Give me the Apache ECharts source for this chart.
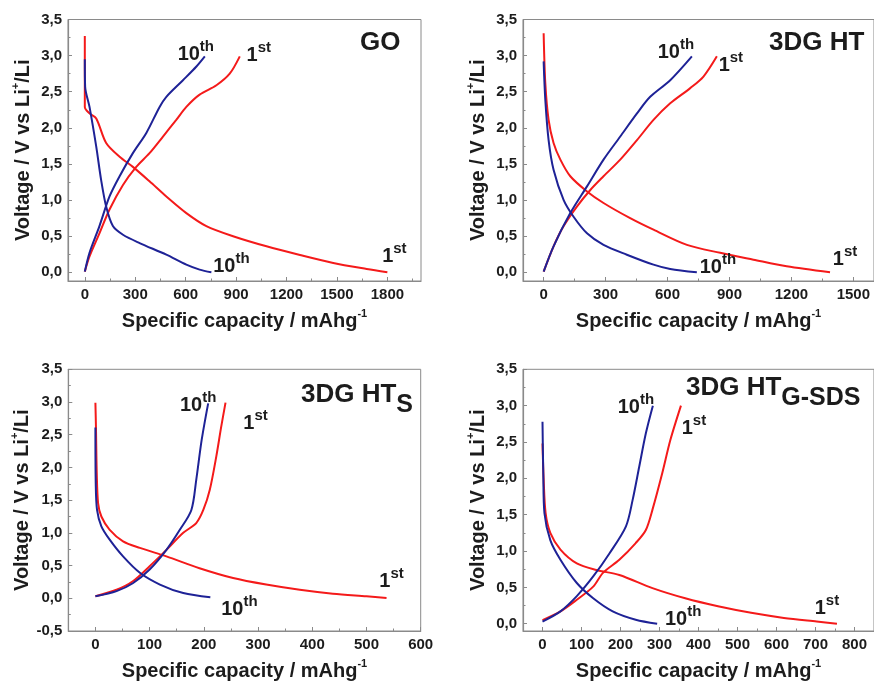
<!DOCTYPE html>
<html>
<head>
<meta charset="utf-8">
<script src="https://cdn.jsdelivr.net/npm/echarts@6/dist/echarts.min.js"></script>
<style>
  html, body { margin: 0; padding: 0; background: #fff; }
  #chart { width: 874px; height: 682px; }
</style>
</head>
<body>
<div id="chart"></div>
<script>
// Galvanostatic charge/discharge profiles, 1st and 10th cycle, four electrodes.
// Each curve: [specific capacity (mAh/g), voltage (V)]

// GO
const goDis1 = [[0,3.27],[0,2.29],[28,2.2],[68,2.13],[127,1.79],[207,1.6],[286,1.46],[385,1.26],[485,1.05],[604,0.82],[723,0.64],[882,0.5],[1081,0.36],[1280,0.24],[1478,0.13],[1677,0.046],[1800,0]];
const goChg1 = [[0,0.01],[28,0.22],[87,0.54],[147,0.87],[227,1.21],[306,1.46],[385,1.65],[465,1.88],[544,2.11],[604,2.29],[683,2.46],[783,2.59],[862,2.75],[922,2.99]];
const goDis10 = [[0,2.95],[2,2.57],[28,2.29],[68,1.74],[97,1.28],[127,0.91],[167,0.64],[227,0.52],[326,0.405],[485,0.244],[604,0.106],[683,0.037],[753,0]];
const goChg10 = [[0,0.01],[28,0.27],[87,0.64],[147,1.05],[207,1.33],[286,1.65],[366,1.93],[445,2.29],[485,2.43],[584,2.66],[664,2.85],[714,2.99]];

// 3DG HT
const htDis1 = [[0,3.31],[8,2.62],[24,2.11],[48,1.79],[81,1.56],[129,1.33],[210,1.12],[290,0.96],[419,0.75],[532,0.59],[694,0.38],[855,0.27],[1016,0.175],[1177,0.083],[1387,0]];
const htChg1 = [[0,0.01],[48,0.36],[97,0.64],[161,0.91],[226,1.14],[290,1.33],[371,1.56],[452,1.83],[532,2.11],[613,2.34],[710,2.55],[774,2.71],[839,2.99]];
const htDis10 = [[0,2.92],[8,2.39],[24,1.83],[48,1.42],[97,1.0],[145,0.77],[210,0.54],[290,0.38],[403,0.244],[532,0.106],[613,0.046],[742,0]];
const htChg10 = [[0,0.01],[48,0.36],[129,0.82],[210,1.19],[290,1.56],[371,1.88],[452,2.2],[516,2.43],[613,2.66],[718,2.99]];

// 3DG HT_S
const htsDis1 = [[0,2.99],[1,2.62],[2.5,1.91],[5,1.45],[11,1.25],[26,1.05],[51,0.87],[82,0.77],[131,0.64],[192,0.46],[254,0.31],[315,0.21],[377,0.13],[438,0.07],[500,0.03],[537,0.005]];
const htsChg1 = [[0,0.03],[39,0.13],[69,0.26],[100,0.49],[131,0.74],[162,1.0],[186,1.15],[199,1.35],[211,1.66],[223,2.17],[232,2.62],[240,2.99]];
const htsDis10 = [[0,2.61],[0.6,1.76],[3,1.35],[11,1.1],[26,0.9],[51,0.64],[82,0.39],[119,0.21],[162,0.08],[212,0.015]];
const htsChg10 = [[0,0.03],[39,0.11],[69,0.23],[100,0.44],[131,0.74],[156,1.05],[177,1.35],[186,1.81],[196,2.42],[208,2.98]];

// 3DG HT_G-SDS
const sdsDis1 = [[0,2.48],[3,1.98],[8,1.52],[20,1.25],[46,1.02],[88,0.83],[138,0.74],[197,0.67],[282,0.49],[366,0.35],[450,0.24],[535,0.15],[619,0.08],[703,0.03],[755,0]];
const sdsChg1 = [[0,0.05],[46,0.17],[88,0.33],[130,0.51],[155,0.7],[197,0.88],[239,1.11],[265,1.29],[282,1.57],[307,2.07],[328,2.53],[355,3.0]];
const sdsDis10 = [[0,2.78],[2,2.07],[5,1.52],[20,1.15],[46,0.88],[88,0.56],[130,0.35],[180,0.17],[239,0.055],[294,0]];
const sdsChg10 = [[0,0.03],[46,0.17],[88,0.38],[130,0.65],[172,0.97],[214,1.34],[231,1.7],[248,2.16],[265,2.62],[283,3.0]];

// Tick labels
const voltTicks = [0, 0.5, 1.0, 1.5, 2.0, 2.5, 3.0, 3.5];
const voltTicksNeg = [-0.5, 0, 0.5, 1.0, 1.5, 2.0, 2.5, 3.0, 3.5];
const goCapTicks = [0, 300, 600, 900, 1200, 1500, 1800];
const htCapTicks = [0, 300, 600, 900, 1200, 1500];
const htsCapTicks = [0, 100, 200, 300, 400, 500, 600];
const sdsCapTicks = [0, 100, 200, 300, 400, 500, 600, 700, 800];

const panelTitles = ['{m|GO}', '{m|3DG HT}', '{m|3DG HT}{s|S}', '{m|3DG HT}{s|G-SDS}'];
const cycleFirst = '{n|1}{s|st}';
const cycleTenth = '{n|10}{s|th}';

const RED = '#f41a1a';
const BLUE = '#1e2296';
const FONT = '"Liberation Sans", Arial, sans-serif';
const INK = '#1c1c1c';
const AXIS = '#8a8a8a';

const panels = [
  { grid: { left: 68, top: 19.5, width: 353, height: 261.5 }, x: [-100, 2000], y: [-0.12, 3.5],
    xt: goCapTicks, xm: [150, 450, 750, 1050, 1350, 1650, 1950], yt: voltTicks, ym: [0.25, 0.75, 1.25, 1.75, 2.25, 2.75, 3.25],
    curves: [goDis1, goChg1, goDis10, goChg10],
    offs: [[7, -18], [19, -3], [20, -8], [-9, -4]],
    title: { left: 360, top: 30 } },
  { grid: { left: 523, top: 19.5, width: 351.4, height: 261.5 }, x: [-100, 1600], y: [-0.12, 3.5],
    xt: htCapTicks, xm: [150, 450, 750, 1050, 1350], yt: voltTicks, ym: [0.25, 0.75, 1.25, 1.75, 2.25, 2.75, 3.25],
    curves: [htDis1, htChg1, htDis10, htChg10],
    offs: [[15, -15], [14, 7], [21, -7], [-16, -6]],
    title: { left: 769, top: 30 } },
  { grid: { left: 68.3, top: 369.3, width: 352.4, height: 261.7 }, x: [-50, 600], y: [-0.5, 3.5],
    xt: htsCapTicks, xm: [50, 150, 250, 350, 450, 550], yt: voltTicksNeg, ym: [-0.25, 0.25, 0.75, 1.25, 1.75, 2.25, 2.75, 3.25],
    curves: [htsDis1, htsChg1, htsDis10, htsChg10],
    offs: [[5, -19], [30, 18], [29, 10], [-10, 0]],
    title: { left: 301, top: 382 } },
  { grid: { left: 523, top: 369.3, width: 356, height: 261.7 }, x: [-50, 850], y: [-0.1, 3.5],
    xt: sdsCapTicks, xm: [50, 150, 250, 350, 450, 550, 650, 750], yt: voltTicks, ym: [0.25, 0.75, 1.25, 1.75, 2.25, 2.75, 3.25],
    curves: [sdsDis1, sdsChg1, sdsDis10, sdsChg10],
    offs: [[-10, -18], [13, 20], [26, -7], [-17, -1]],
    title: { left: 686, top: 375 } }
];

const cycleRich = {
  n: { fontFamily: FONT, fontWeight: 'bold', fontSize: 20, color: INK, lineHeight: 25, verticalAlign: 'bottom' },
  s: { fontFamily: FONT, fontWeight: 'bold', fontSize: 15, color: INK, verticalAlign: 'top' }
};

const fmtVolt = v => v.toFixed(1).replace('.', ',');
const fmtCap = v => String(v);

const nameRich = {
  m: { fontFamily: FONT, fontWeight: 'bold', fontSize: 20, color: INK, lineHeight: 23, verticalAlign: 'bottom' },
  s: { fontFamily: FONT, fontWeight: 'bold', fontSize: 11, color: INK, verticalAlign: 'top' }
};

const option = { animation: false, grid: [], xAxis: [], yAxis: [], series: [], title: [] };

panels.forEach((p, i) => {
  option.grid.push(Object.assign({ show: true, borderColor: AXIS, borderWidth: 1, backgroundColor: 'transparent' }, p.grid));
  // labelled axes
  option.xAxis.push({
    type: 'value', gridIndex: i, min: p.x[0], max: p.x[1], position: 'bottom',
    axisLine: { onZero: false, lineStyle: { color: AXIS, width: 1.2 } },
    axisTick: { inside: true, length: 4, customValues: p.xt, lineStyle: { color: AXIS } },
    axisLabel: { customValues: p.xt, margin: 6, formatter: fmtCap, fontFamily: FONT, fontWeight: 'bold', fontSize: 15, color: INK },
    splitLine: { show: false },
    name: '{m|Specific capacity / mAhg}{s|-1}', nameLocation: 'middle', nameGap: 27,
    nameTextStyle: { rich: nameRich }
  });
  option.yAxis.push({
    type: 'value', gridIndex: i, min: p.y[0], max: p.y[1], position: 'left',
    axisLine: { onZero: false, lineStyle: { color: AXIS, width: 1.2 } },
    axisTick: { inside: true, length: 4, customValues: p.yt, lineStyle: { color: AXIS } },
    axisLabel: { customValues: p.yt, margin: 6, formatter: fmtVolt, fontFamily: FONT, fontWeight: 'bold', fontSize: 15, color: INK },
    splitLine: { show: false },
    name: '{m|Voltage / V vs Li}{s|+}{m|/Li}', nameLocation: 'middle', nameGap: 35, nameRotate: 90,
    nameTextStyle: { rich: nameRich }
  });
  // minor tick axes
  option.xAxis.push({
    type: 'value', gridIndex: i, min: p.x[0], max: p.x[1], position: 'bottom',
    axisLine: { show: false, onZero: false }, axisLabel: { show: false }, splitLine: { show: false },
    axisTick: { inside: true, length: 2.5, customValues: p.xm, lineStyle: { color: AXIS } }
  });
  option.yAxis.push({
    type: 'value', gridIndex: i, min: p.y[0], max: p.y[1], position: 'left',
    axisLine: { show: false, onZero: false }, axisLabel: { show: false }, splitLine: { show: false },
    axisTick: { inside: true, length: 2.5, customValues: p.ym, lineStyle: { color: AXIS } }
  });

  const xi = i * 2, yi = i * 2;
  const colors = [RED, RED, BLUE, BLUE];
  const tags = [cycleFirst, cycleFirst, cycleTenth, cycleTenth];
  p.curves.forEach((data, k) => {
    const last = data[data.length - 1];
    option.series.push({
      type: 'line', xAxisIndex: xi, yAxisIndex: yi, data: data,
      showSymbol: false, smooth: 0.3, clip: false,
      lineStyle: { color: colors[k], width: 2 }, itemStyle: { color: colors[k] },
      markPoint: {
        symbol: 'circle', symbolSize: 0, silent: true,
        data: [{ coord: last }],
        label: { show: true, position: 'inside', offset: p.offs[k], formatter: tags[k], rich: cycleRich }
      }
    });
  });

  option.title.push({
    text: panelTitles[i], left: p.title.left, top: p.title.top, padding: 0,
    textStyle: { rich: {
      m: { fontFamily: FONT, fontWeight: 'bold', fontSize: 26, color: INK, lineHeight: 36, verticalAlign: 'top' },
      s: { fontFamily: FONT, fontWeight: 'bold', fontSize: 25, color: INK, verticalAlign: 'bottom' } } }
  });
});

const chart = echarts.init(document.getElementById('chart'), null, { renderer: 'canvas' });
chart.setOption(option);
</script>
</body>
</html>
